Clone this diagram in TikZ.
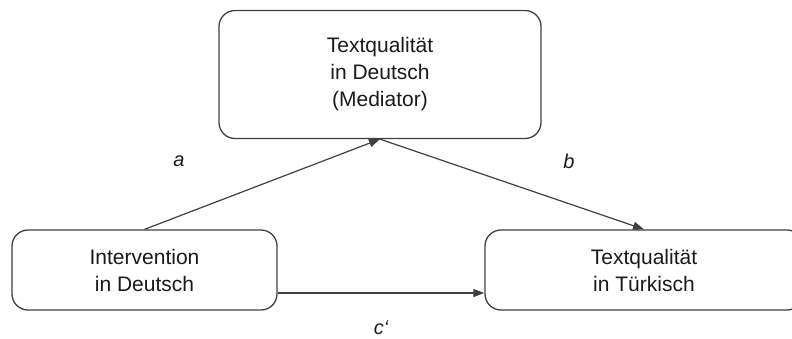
\documentclass[tikz,border=0pt]{standalone}
\usepackage{fontspec}
\setmainfont{Liberation Sans}
\usetikzlibrary{arrows.meta}
\definecolor{linegray}{HTML}{404040}
\definecolor{txt}{HTML}{1A1A1A}
\tikzset{
  box/.style={draw=linegray, line width=1.3pt, rounded corners=16pt, align=center,
    text=txt, font=\fontsize{21}{27}\selectfont, inner sep=0pt},
  conn/.style={draw=linegray, line width=1.2pt, -{Triangle[length=11pt,width=8pt]}},
  lab/.style={text=txt, font=\fontsize{20}{24}\selectfont\itshape}
}
\begin{document}
\begin{tikzpicture}[x=1pt,y=-1pt]
\useasboundingbox (0,0) rectangle (792,338);
\clip (0,0) rectangle (792,338);
\node[box, minimum width=322pt, minimum height=128pt] (med) at (380,74.5) {Textqualität\\in Deutsch\\(Mediator)};
\node[box, minimum width=265pt, minimum height=80pt] (iv) at (144.5,270) {Intervention\\in Deutsch};
\node[box, minimum width=318pt, minimum height=80pt] (dv) at (644,270) {Textqualität\\in Türkisch};
\draw[conn] (iv.north) -- (med.south);
\draw[conn] (med.south) -- (dv.north);
\draw[conn] ([yshift=-23pt]iv.east) -- ([yshift=-23pt]dv.west);
\node[lab] (la) at (179,161) {a};
\node[lab] (lb) at (569,161) {b};
\node[lab] (lc) at (381,328) {c‘};
\end{tikzpicture}
\end{document}
